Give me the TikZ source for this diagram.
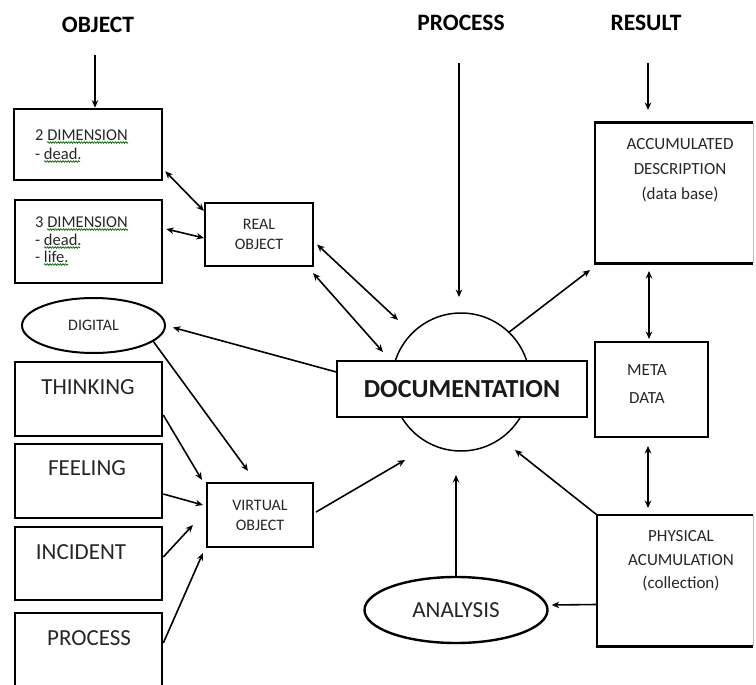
\documentclass[tikz,border=0pt]{standalone}
\usepackage{fontspec}
\setmainfont{Carlito}
\usetikzlibrary{arrows.meta,shapes.geometric,calc,decorations.pathmorphing}
\begin{document}
\begin{tikzpicture}[x=1pt,y=-1pt,
  arr/.style={line width=1.6pt,-{Stealth[length=7.5pt,width=6.5pt]}},
  darr/.style={line width=1.6pt,{Stealth[length=7.5pt,width=6.5pt]}-{Stealth[length=7.5pt,width=6.5pt]}},
  box/.style={draw,line width=2.6pt,rectangle,inner sep=0pt},
  title/.style={font=\fontsize{23.5}{27}\selectfont\bfseries},
  big/.style={font=\fontsize{23}{27}\selectfont,text=black!85},
  small/.style={font=\fontsize{16}{20}\selectfont,text=black!85,align=center},
  mid/.style={text=black!85,align=center},
  dimtxt/.style={font=\fontsize{16.5}{20}\selectfont,text=black!85,anchor=base west,inner sep=0pt},
  squig/.style={decorate,decoration={snake,amplitude=0.8pt,segment length=2.6pt},line width=0.7pt,draw=green!40!black}
]
\useasboundingbox (0,0) rectangle (756,685);

% titles
\node[title] (tobj) at (98,25) {OBJECT};
\node[title] (tproc) at (461,23) {PROCESS};
\node[title] (tres) at (646,23) {RESULT};

% left column, real objects
\node[box,minimum width=148pt,minimum height=71pt] (dim2) at (88,144.5) {};
\node[dimtxt] (d2a) at (35,140) {2 DIMENSION};
\node[dimtxt] (d2b) at (35,159) {- dead.};
\node[box,minimum width=147pt,minimum height=83pt] (dim3) at (88.5,241.5) {};
\node[dimtxt] (d3a) at (35,227) {3 DIMENSION};
\node[dimtxt] (d3b) at (35,245) {- dead.};
\node[dimtxt] (d3c) at (35,262) {- life.};
\draw[squig] (47,142.5) -- (128,142.5);
\draw[squig] (44,161.5) -- (80,161.5);
\draw[squig] (47,229.5) -- (128,229.5);
\draw[squig] (44,247.5) -- (80,247.5);
\draw[squig] (44,264.5) -- (68,264.5);

\node[box,line width=2.2pt,minimum width=108pt,minimum height=63pt,small] (real) at (259,234.5) {REAL\\OBJECT};

\node[draw,ellipse,line width=2pt,minimum width=143pt,minimum height=55pt,inner sep=0pt,small] (dig) at (93.5,325.5) {DIGITAL};

% left column, virtual objects
\node[box,minimum width=147pt,minimum height=74pt] (think) at (88.5,399) {};
\node[big] (thinkt) at (88,387) {THINKING};
\node[box,minimum width=147pt,minimum height=74pt] (feel) at (88.5,481) {};
\node[big] (feelt) at (87,468) {FEELING};
\node[box,minimum width=147pt,minimum height=73pt] (incid) at (88.5,563.5) {};
\node[big] (incidt) at (81,552) {INCIDENT};
\node[box,minimum width=147pt,minimum height=87pt] (proc) at (88.5,656.5) {};
\node[big] (proct) at (89,638) {PROCESS};

\node[box,line width=2.2pt,minimum width=106pt,minimum height=64pt,small] (virt) at (260,515) {VIRTUAL\\OBJECT};

% centre
\node[draw,circle,line width=1.5pt,minimum size=138pt,inner sep=0pt] (circ) at (461,382) {};
\node[draw,fill=white,line width=1.4pt,minimum width=250pt,minimum height=56pt,inner sep=0pt,font=\fontsize{26}{30}\selectfont\bfseries,text=black!90] (doc) at (462,389) {DOCUMENTATION};

\node[draw,ellipse,line width=2.4pt,minimum width=183pt,minimum height=66pt,inner sep=0pt,big] (ana) at (456,610) {ANALYSIS};

% right column
\node[minimum width=158pt,minimum height=140pt,inner sep=0pt] (acc) at (674,193) {};
\draw[line width=2.6pt] (acc.north east) -- (acc.north west) -- (acc.south west) -- (acc.south east);
\draw[line width=0.6pt,black!25] (acc.north east) -- (acc.south east);
\node[mid,font=\fontsize{17}{25}\selectfont] (acct) at (680,170) {ACCUMULATED\\DESCRIPTION\\(data base)};

\node[box,line width=2pt,minimum width=113pt,minimum height=95pt] (meta) at (651.5,389.5) {};
\node[mid,font=\fontsize{17}{28}\selectfont] (metat) at (647,384) {META\\DATA};

\node[minimum width=156pt,minimum height=131pt,inner sep=0pt] (phys) at (675,580.5) {};
\draw[line width=2.6pt] (phys.north east) -- (phys.north west) -- (phys.south west) -- (phys.south east);
\draw[line width=0.6pt,black!25] (phys.north east) -- (phys.south east);
\node[mid,font=\fontsize{17}{23.5}\selectfont] (physt) at (681,561) {PHYSICAL\\ACUMULATION\\(collection)};

% free ends
\coordinate (objtail) at (95,55);
\coordinate (proctail) at (459,63);
\coordinate (prochead) at (459,297);
\coordinate (restail) at (648,63);
\coordinate (reshead) at (648,110);
\coordinate (accA) at (649,271);
\coordinate (accB) at (649,339);
\coordinate (metaA) at (648,446);
\coordinate (metaB) at (648,508);
\coordinate (accin) at (590,270);
\coordinate (physout) at (515,450);
\coordinate (anaup) at (457,475);
\coordinate (rd1b) at (398,320);
\coordinate (rd2b) at (383,352);
\coordinate (virtout) at (405,460);

% connectors
\draw[arr] (objtail) -- (objtail |- dim2.north);
\draw[arr] (proctail) -- (prochead);
\draw[arr] (restail) -- (reshead);
\draw[darr] (accA) -- (accB);
\draw[darr] (metaA) -- (metaB);
\draw[arr] (circ.46) -- (accin);
\draw[arr] (phys.north west) -- (physout);
\draw[arr] ($(phys.west)+(0,24)$) -- ($(ana.east)+(3,-5)$);
\draw[arr] (ana.north) -- (ana.north |- anaup);

\draw[darr] ($(dim2.south east)+(2,-10)$) -- ($(real.north west)+(0,9)$);
\draw[darr] ($(dim3.east)+(3,-12.5)$) -- ($(real.west)+(0,3.5)$);
\draw[darr] ($(real.east)+(3,10)$) -- (rd1b);
\draw[darr] ($(real.south east)+(-1,6)$) -- (rd2b);

\draw[arr] ($(doc.west)+(0,-17)$) -- ($(dig.east)+(7,2)$);
\draw[arr] (dig.-15) -- ($(virt.north)+(-12,-11)$);
\draw[arr] ($(virt.east)+(2,-3)$) -- (virtout);

\draw[arr] ($(think.east)+(0,16)$) -- ($(virt.north west)+(-4,-2)$);
\draw[arr] ($(feel.east)+(0,13)$) -- ($(virt.west)+(-3,-10)$);
\draw[arr] ($(incid.east)+(0,-6.5)$) -- ($(virt.west)+(-13,10)$);
\draw[arr] ($(proc.east)+(0,-13.5)$) -- ($(virt.south west)+(-3,5)$);
\end{tikzpicture}
\end{document}
